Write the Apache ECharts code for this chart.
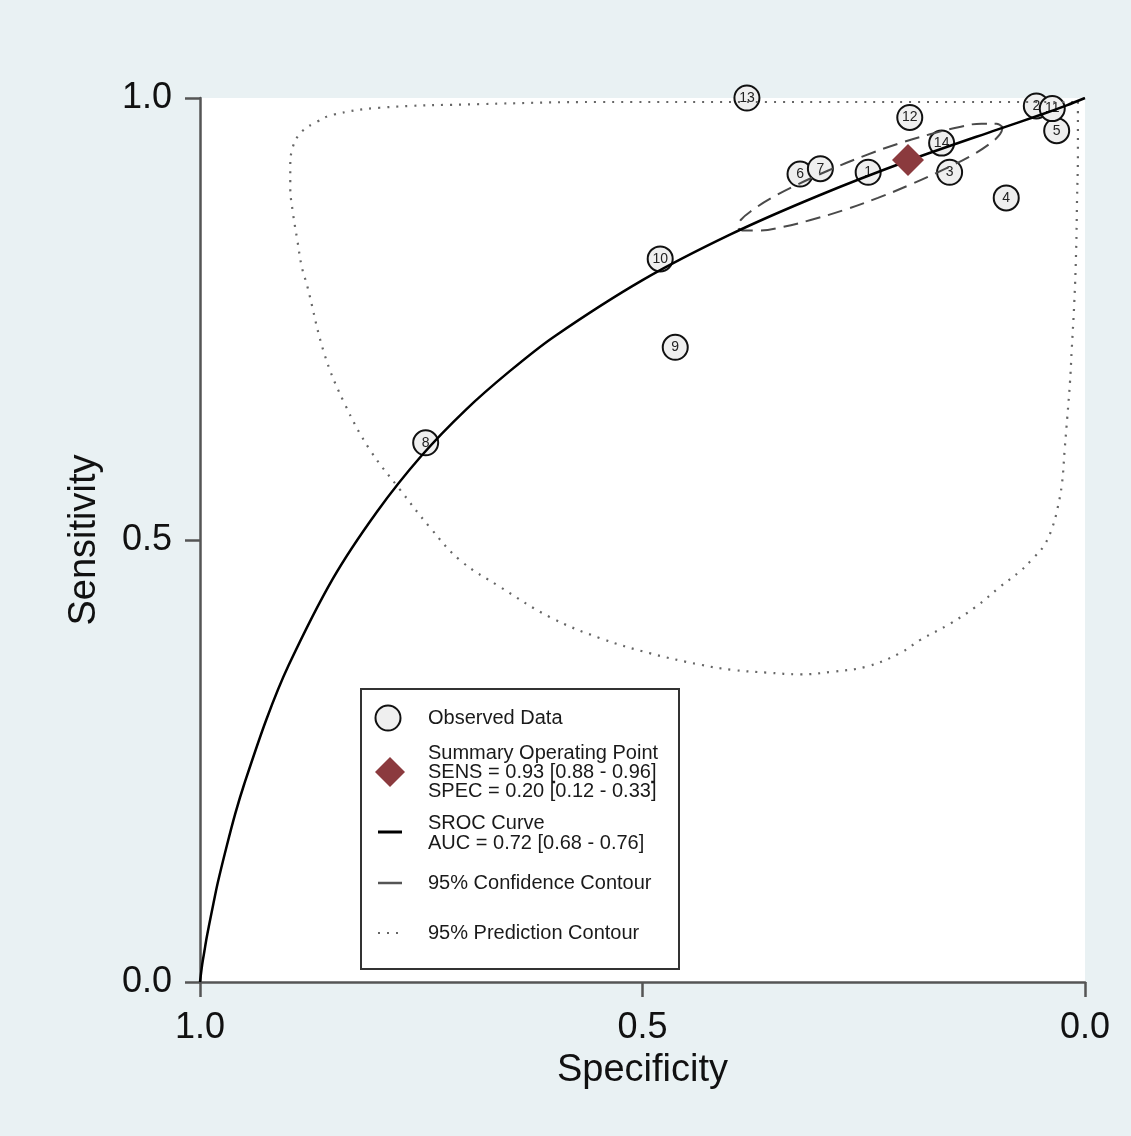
<!DOCTYPE html>
<html>
<head>
<meta charset="utf-8">
<script src="https://cdn.jsdelivr.net/npm/echarts@6/dist/echarts.min.js"></script>
<style>
  html, body { margin: 0; padding: 0; background: #e9f1f3; }
  #chart { width: 1131px; height: 1136px; }
</style>
</head>
<body>
<div id="chart"></div>
<script>
// 各研究的观测点 (specificity, sensitivity)
const studyIds = [1, 2, 3, 4, 5, 6, 7, 8, 9, 10, 11, 12, 13, 14]
const studySpec = [0.245, 0.055, 0.153, 0.089, 0.032, 0.322, 0.299, 0.745, 0.463, 0.480, 0.037, 0.198, 0.382, 0.162]
const studySens = [0.916, 0.991, 0.916, 0.887, 0.963, 0.914, 0.920, 0.610, 0.718, 0.818, 0.988, 0.978, 1.000, 0.949]

// summary operating point
const summarySpec = 0.20
const summarySens = 0.93

// SROC curve
const srocSpec = [1.0, 0.9975, 0.995, 0.9925, 0.99, 0.985, 0.98, 0.97, 0.96, 0.95, 0.925, 0.90, 0.85, 0.80, 0.75, 0.70, 0.65, 0.60, 0.50, 0.40, 0.30, 0.20, 0.10, 0.05, 0.02, 0.0]
const srocSens = [0.0, 0.020, 0.035, 0.050, 0.063, 0.088, 0.112, 0.153, 0.191, 0.224, 0.297, 0.358, 0.456, 0.532, 0.595, 0.647, 0.691, 0.730, 0.794, 0.846, 0.890, 0.929, 0.964, 0.981, 0.992, 1.0]

// 95% confidence contour
const confSpec = [0.093, 0.096, 0.108, 0.130, 0.160, 0.195, 0.234, 0.273, 0.310, 0.342, 0.368, 0.385, 0.392, 0.389, 0.376, 0.354, 0.325, 0.290, 0.251, 0.212, 0.175, 0.143, 0.117, 0.100, 0.093]
const confSens = [0.967, 0.959, 0.948, 0.934, 0.919, 0.903, 0.887, 0.873, 0.862, 0.854, 0.850, 0.850, 0.854, 0.862, 0.873, 0.887, 0.902, 0.918, 0.934, 0.948, 0.959, 0.967, 0.971, 0.971, 0.967]

// 95% prediction contour
const predSpec = [0.008, 0.008, 0.008, 0.009, 0.010, 0.012, 0.015, 0.017, 0.020, 0.023, 0.026, 0.031, 0.037, 0.046, 0.059, 0.073, 0.096, 0.124, 0.153, 0.186, 0.209, 0.246, 0.285, 0.322, 0.359, 0.398, 0.435, 0.492, 0.548, 0.605, 0.661, 0.706, 0.740, 0.774, 0.808, 0.836, 0.859, 0.879, 0.885, 0.890, 0.895, 0.898, 0.898, 0.895, 0.885, 0.868, 0.850, 0.797, 0.684, 0.548, 0.322, 0.096, 0.008]
const predSens = [0.9955, 0.986, 0.938, 0.885, 0.828, 0.771, 0.715, 0.678, 0.639, 0.602, 0.564, 0.536, 0.514, 0.494, 0.479, 0.465, 0.447, 0.424, 0.405, 0.387, 0.372, 0.357, 0.351, 0.348, 0.350, 0.353, 0.359, 0.372, 0.389, 0.413, 0.447, 0.477, 0.514, 0.557, 0.602, 0.653, 0.709, 0.788, 0.809, 0.839, 0.870, 0.899, 0.922, 0.945, 0.962, 0.973, 0.981, 0.989, 0.993, 0.9955, 0.9955, 0.9955, 0.9955]

const yTicks = ['0.0', '0.5', '1.0']

const zip = (a, b) => a.map((v, i) => [v, b[i]])
const FONT = '"Liberation Sans", Arial, sans-serif'
const AXIS_COLOR = '#555'
const DIAMOND = '#8b3a3e'

const chart = echarts.init(document.getElementById('chart'), null, {renderer: 'canvas'})

const axisCommon = {
  type: 'value',
  min: 0,
  max: 1,
  interval: 0.5,
  nameLocation: 'middle',
  nameTextStyle: {fontSize: 38, color: '#111', fontFamily: FONT},
  axisLine: {show: true, onZero: false, lineStyle: {color: AXIS_COLOR, width: 2.5}},
  axisTick: {show: true, length: 15, lineStyle: {color: AXIS_COLOR, width: 2.5}},
  axisLabel: {
    fontSize: 36,
    color: '#111',
    fontFamily: FONT,
    margin: 28,
    formatter: (v) => yTicks[Math.round(v * 2)],
  },
  splitLine: {show: false},
}

// 图例 (手工绘制的方框)
const legendText = (x, y, text) => ({
  type: 'text',
  x, y,
  style: {text, fontSize: 20, fill: '#1a1a1a', fontFamily: FONT, verticalAlign: 'middle', lineHeight: 19},
})

chart.setOption({
  backgroundColor: '#e9f1f3',
  animation: false,
  grid: {left: 200, right: 46, top: 98, bottom: 154, show: true, backgroundColor: '#fff', borderWidth: 0},
  xAxis: {...axisCommon, inverse: true, name: 'Specificity', nameGap: 70},
  yAxis: {...axisCommon, name: 'Sensitivity', nameGap: 96},
  series: [
    {
      type: 'scatter',
      z: 2,
      clip: false,
      symbol: 'circle',
      symbolSize: 25,
      data: studyIds.map((id, i) => ({value: [studySpec[i], studySens[i]], name: String(id)})),
      itemStyle: {color: '#efefef', borderColor: '#111', borderWidth: 2, opacity: 1},
      label: {show: true, position: 'inside', formatter: (p) => p.name, fontSize: 14, color: '#222', fontFamily: FONT},
    },
    {
      type: 'line',
      z: 3,
      showSymbol: false,
      data: zip(predSpec, predSens),
      smooth: 0.4,
      lineStyle: {color: '#666', width: 2.2, type: [2, 7]},
    },
    {
      type: 'line',
      z: 3,
      showSymbol: false,
      data: zip(confSpec, confSens),
      smooth: 0.4,
      lineStyle: {color: '#4a4a4a', width: 2, type: [15, 8]},
    },
    {
      type: 'line',
      z: 4,
      showSymbol: false,
      data: zip(srocSpec, srocSens),
      smooth: 0.3,
      lineStyle: {color: '#000', width: 2.5},
    },
    {
      type: 'scatter',
      z: 5,
      clip: false,
      symbol: 'diamond',
      symbolSize: [32, 32],
      data: [[summarySpec, summarySens]],
      itemStyle: {color: DIAMOND, opacity: 1},
    },
  ],
  graphic: [
    {
      type: 'group',
      z: 100,
      children: [
        {type: 'rect', shape: {x: 361, y: 689, width: 318, height: 280}, style: {fill: '#fff', stroke: '#333', lineWidth: 2}},
        {type: 'circle', shape: {cx: 388, cy: 718, r: 12.5}, style: {fill: '#efefef', stroke: '#111', lineWidth: 2}},
        legendText(428, 718, 'Observed Data'),
        {type: 'polygon', shape: {points: [[390, 757], [405, 772], [390, 787], [375, 772]]}, style: {fill: DIAMOND}},
        legendText(428, 753, 'Summary Operating Point'),
        legendText(428, 772, 'SENS = 0.93 [0.88 - 0.96]'),
        legendText(428, 791, 'SPEC = 0.20 [0.12 - 0.33]'),
        {type: 'line', shape: {x1: 378, y1: 832, x2: 402, y2: 832}, style: {stroke: '#000', lineWidth: 3}},
        legendText(428, 823, 'SROC Curve'),
        legendText(428, 843, 'AUC = 0.72 [0.68 - 0.76]'),
        {type: 'line', shape: {x1: 378, y1: 883, x2: 402, y2: 883}, style: {stroke: '#555', lineWidth: 2.5}},
        legendText(428, 883, '95% Confidence Contour'),
        {type: 'line', shape: {x1: 378, y1: 933, x2: 402, y2: 933}, style: {stroke: '#666', lineWidth: 2, lineDash: [2, 7]}},
        legendText(428, 933, '95% Prediction Contour'),
      ],
    },
  ],
})
</script>
</body>
</html>
